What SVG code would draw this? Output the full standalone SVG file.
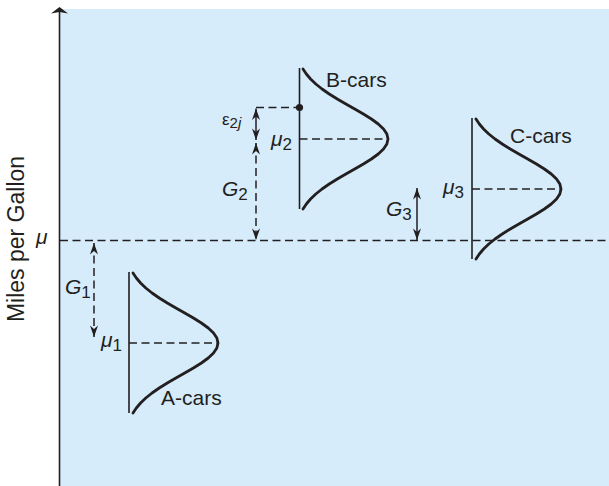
<svg xmlns="http://www.w3.org/2000/svg" width="609" height="486" viewBox="0 0 609 486">
<defs>
<style>
.txt{font-family:"Liberation Sans",Arial,sans-serif;fill:#231f20}
.lbl{font-size:21px}
.it{font-style:italic;font-size:21px}
.sub{font-style:normal;font-size:17px}
.bell{fill:none;stroke:#231f20;stroke-width:2.8;stroke-linejoin:round;stroke-linecap:round}
.vline{stroke:#231f20;stroke-width:1.6}
.dash{stroke:#231f20;stroke-width:1.4;stroke-dasharray:8 4.5;fill:none}
.arr{stroke:#231f20;stroke-width:1.5;fill:none;marker-start:url(#ah);marker-end:url(#ah)}
</style>
<marker id="ah" viewBox="-12 -5 12 10" refX="0" refY="0" markerWidth="12" markerHeight="10" markerUnits="userSpaceOnUse" orient="auto-start-reverse">
<path d="M0,0 L-11.5,-4 L-8,0 L-11.5,4Z" fill="#231f20"/>
</marker>
<path id="bell" d="M0,0 L3.34,5 L7.58,10 L12.81,15 L19.05,20 L26.25,25 L34.28,30 L42.89,35 L51.73,40 L60.4,45 L68.4,50 L75.26,55 L80.54,60 L83.87,65 L85,70 L83.87,75 L80.54,80 L75.26,85 L68.4,90 L60.4,95 L51.73,100 L42.89,105 L34.28,110 L26.25,115 L19.05,120 L12.81,125 L7.58,130 L3.34,135 L0,140"/>
</defs>
<rect x="60" y="9" width="549" height="477" fill="#d6ecfb"/>
<g id="axis">
<line x1="59.5" y1="12" x2="59.5" y2="486" class="vline"/>
<path d="M59.5,7 L68,13.5 L59.5,12 L51,13.5Z" fill="#231f20"/>
<text class="txt" font-size="23" text-anchor="middle" transform="translate(24,239) rotate(-90)">Miles per Gallon</text>
</g>
<g id="grand-mean">
<line x1="60" y1="240.5" x2="609" y2="240.5" class="dash"/>
<text class="txt it" x="36" y="244">μ</text>
</g>
<g id="b-cars">
<line x1="299.5" y1="68" x2="299.5" y2="209" class="vline"/>
<use href="#bell" class="bell" transform="translate(303,69)"/>
<line x1="299.5" y1="139" x2="388" y2="139" class="dash"/>
<line x1="256" y1="107.5" x2="299.5" y2="107.5" class="dash"/>
<circle cx="299.5" cy="107.5" r="3.6" fill="#231f20"/>
<text class="txt lbl" x="326" y="87">B-cars</text>
<text class="txt it" x="271" y="146">μ<tspan class="sub" dy="4">2</tspan></text>
</g>
<g id="c-cars">
<line x1="472" y1="118" x2="472" y2="259" class="vline"/>
<use href="#bell" class="bell" transform="translate(476,119)"/>
<line x1="472" y1="189" x2="561" y2="189" class="dash"/>
<text class="txt lbl" x="510" y="143">C-cars</text>
<text class="txt it" x="443" y="194">μ<tspan class="sub" dy="4">3</tspan></text>
</g>
<g id="a-cars">
<line x1="129" y1="272" x2="129" y2="413" class="vline"/>
<use href="#bell" class="bell" transform="translate(133,273)"/>
<line x1="129" y1="343" x2="218" y2="343" class="dash"/>
<text class="txt lbl" x="161" y="405">A-cars</text>
<text class="txt it" x="101" y="347">μ<tspan class="sub" dy="4">1</tspan></text>
</g>
<g id="connectors">
<line x1="256" y1="108.5" x2="256" y2="140" class="arr"/>
<line x1="256" y1="143" x2="256" y2="240" class="arr" stroke-dasharray="8 4.5"/>
<line x1="94" y1="243" x2="94" y2="337" class="arr" stroke-dasharray="8 4.5"/>
<line x1="417" y1="188" x2="417" y2="240" class="arr"/>
</g>
<g id="gap-labels">
<text class="txt it" x="65" y="294">G<tspan class="sub" dy="4">1</tspan></text>
<text class="txt it" x="222" y="196">G<tspan class="sub" dy="4">2</tspan></text>
<text class="txt it" x="386" y="216">G<tspan class="sub" dy="4">3</tspan></text>
<text class="txt" font-size="17" x="222" y="125">ε<tspan font-size="15" dy="3">2</tspan><tspan font-size="15" font-style="italic">j</tspan></text>
</g>
</svg>
